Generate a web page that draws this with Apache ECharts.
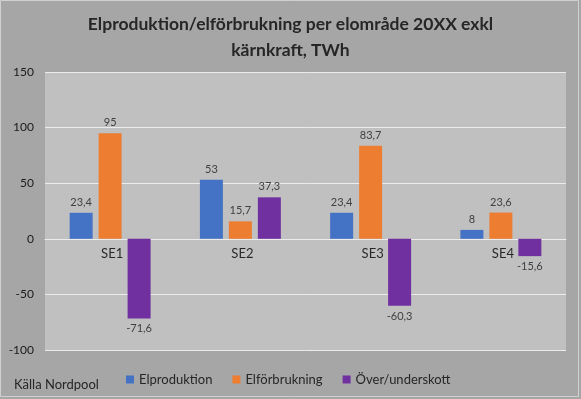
<!DOCTYPE html>
<html>
<head>
<meta charset="utf-8">
<script src="https://cdn.jsdelivr.net/npm/echarts@6/dist/echarts.min.js"></script>
<style>
html,body{margin:0;padding:0;background:#a6a6a6;}
#c{width:581px;height:399px;}
</style>
</head>
<body>
<div id="c"></div>
<script>
const categories = ['SE1', 'SE2', 'SE3', 'SE4'];
const elproduktion = [23.4, 53, 23.4, 8];
const elforbrukning = [95, 15.7, 83.7, 23.6];
const overunderskott = [-71.6, 37.3, -60.3, -15.6];
const seriesNames = ['Elproduktion', 'Elförbrukning', 'Över/underskott'];
const yTicks = { min: -100, max: 150, interval: 50 };

const FONT = 'Lato, "Open Sans", sans-serif';
const fmt = v => String(v).replace('.', ',');

function mk(name, data, color) {
  return {
    name, type: 'bar', barWidth: 23, barGap: '26%',
    itemStyle: { color },
    label: {
      show: true, fontFamily: FONT, fontSize: 11, color: '#404040', distance: 5,
      formatter: p => fmt(p.value),
      position: 'top'
    },
    data: data.map(v => v < 0 ? { value: v, label: { position: 'bottom' } } : v)
  };
}

const series = [
  mk(seriesNames[0], elproduktion, '#4472C4'),
  mk(seriesNames[1], elforbrukning, '#ED7D31'),
  mk(seriesNames[2], overunderskott, '#7030A0'),
  {
    name: 'kategorier', type: 'scatter', symbolSize: 0, silent: true,
    data: categories.map(c => [c, 0]),
    label: {
      show: true, position: 'bottom', distance: 9, offset: [2, 0],
      fontFamily: FONT, fontSize: 13, color: '#000',
      formatter: p => p.value[0]
    }
  }
];

const chart = echarts.init(document.getElementById('c'), null, { renderer: 'canvas' });
chart.setOption({
  backgroundColor: '#a6a6a6',
  animation: false,
  title: {
    text: 'Elproduktion/elförbrukning per elområde 20XX exkl\nkärnkraft, TWh',
    left: 'center', top: 6,
    textStyle: { fontFamily: FONT, fontSize: 17.5, fontWeight: 'bold', color: '#262626', lineHeight: 26 }
  },
  grid: { left: 45, right: 15, top: 72, bottom: 49, show: true, backgroundColor: '#c0c0c0', borderWidth: 0 },
  legend: {
    data: seriesNames, left: 121, top: 368, icon: 'rect', itemWidth: 8, itemHeight: 8, itemGap: 20,
    textStyle: { fontFamily: FONT, fontSize: 13, color: '#262626' }
  },
  graphic: [
    { type: 'rect', shape: { x: 0.5, y: 0.5, width: 578, height: 396 }, style: { fill: null, stroke: '#d0d0d0', lineWidth: 1 }, silent: true },
    { type: 'text', left: 14, top: 378, style: { text: 'Källa Nordpool', font: '13px ' + FONT, fill: '#262626' } }
  ],
  xAxis: {
    type: 'category', data: categories,
    axisLine: { onZero: true, lineStyle: { color: '#ececec', width: 1 } },
    axisTick: { show: false },
    axisLabel: { show: false }
  },
  yAxis: {
    type: 'value', min: yTicks.min, max: yTicks.max, interval: yTicks.interval,
    axisLine: { show: false }, axisTick: { show: false },
    axisLabel: { fontFamily: FONT, fontSize: 12, color: '#1a1a1a', margin: 11 },
    splitLine: { lineStyle: { color: '#ececec', width: 1 } }
  },
  series
});
</script>
</body>
</html>
